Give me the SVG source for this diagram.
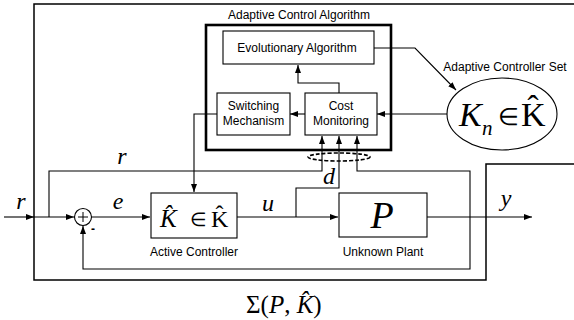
<svg xmlns="http://www.w3.org/2000/svg" width="574" height="320" viewBox="0 0 574 320">
<defs>
<marker id="ah" markerWidth="8" markerHeight="6" refX="8" refY="3" orient="auto" markerUnits="userSpaceOnUse">
<path d="M0,0 L8,3 L0,6 Z" fill="#000"/>
</marker>
<style>
.ln{fill:none;stroke:#000;stroke-width:1.1}
.bx{fill:#fff;stroke:#000;stroke-width:1.1}
.sans{font-family:"Liberation Sans",Arial,sans-serif;font-size:12px;fill:#000}
.m{font-family:"Liberation Serif","Times New Roman",serif;fill:#000}
.i{font-style:italic}
</style>
</defs>
<rect width="574" height="320" fill="#fff"/>

<g id="frame">
<path d="M574,4 H34 V280 H486 V164 H574" fill="none" stroke="#000" stroke-width="1.5"/>
</g>

<g id="connectors">
<path class="ln" d="M4,217 H34" marker-end="url(#ah)"/>
<path class="ln" d="M34,217 H74" marker-end="url(#ah)"/>
<path class="ln" d="M49,217 V171 H322 V136" marker-end="url(#ah)"/>
<path class="ln" d="M92,217 H150" marker-end="url(#ah)"/>
<path class="ln" d="M237,217 H338" marker-end="url(#ah)"/>
<path class="ln" d="M296,217 V188 H339 V136" marker-end="url(#ah)"/>
<path class="ln" d="M427,217 H532" marker-end="url(#ah)"/>
<path class="ln" d="M470,217 V171 H357 V136" marker-end="url(#ah)"/>
<path class="ln" d="M470,217 V269 H83 V226" marker-end="url(#ah)"/>
<path class="ln" d="M217,114 H194 V192" marker-end="url(#ah)"/>
<path class="ln" d="M305,114 H290" marker-end="url(#ah)"/>
<path class="ln" d="M339,93 V83 H298 V65" marker-end="url(#ah)"/>
<path class="ln" d="M374,48 H415 L456,90" marker-end="url(#ah)"/>
<path class="ln" d="M447,114 H377" marker-end="url(#ah)"/>
<ellipse cx="339" cy="157" rx="31" ry="4" fill="none" stroke="#000" stroke-width="1.6" stroke-dasharray="4,2"/>
</g>

<g id="aca">
<rect x="206" y="25" width="185" height="125" fill="none" stroke="#000" stroke-width="2.6"/>
<text class="sans" x="299" y="19" text-anchor="middle">Adaptive Control Algorithm</text>
</g>

<g id="evo">
<rect class="bx" x="223" y="31" width="151" height="33"/>
<text class="sans" x="297" y="52" text-anchor="middle">Evolutionary Algorithm</text>
</g>

<g id="switch">
<rect class="bx" x="217" y="93" width="73" height="42"/>
<text class="sans" x="253.5" y="110" text-anchor="middle">Switching</text>
<text class="sans" x="253.5" y="125" text-anchor="middle">Mechanism</text>
</g>

<g id="cost">
<rect class="bx" x="305" y="93" width="72" height="42"/>
<text class="sans" x="341" y="110" text-anchor="middle">Cost</text>
<text class="sans" x="341" y="125" text-anchor="middle">Monitoring</text>
</g>

<g id="set">
<ellipse cx="502" cy="114" rx="55" ry="36" fill="#fff" stroke="#000" stroke-width="1.1"/>
<text class="sans" x="505" y="71" text-anchor="middle">Adaptive Controller Set</text>
<text class="m i" x="459" y="126" font-size="34">K</text>
<text class="m i" x="482" y="135" font-size="21">n</text>
<text class="m" x="498" y="125" font-size="24">∈</text>
<text class="m" x="521" y="126" font-size="34">K&#x302;</text>
</g>

<g id="sum">
<circle cx="83" cy="217" r="8.5" fill="#fff" stroke="#000" stroke-width="1.1"/>
<path d="M78,217 H88 M83,212 V222" stroke="#000" stroke-width="1"/>
<text class="sans" x="91" y="233" font-size="14" font-weight="bold">-</text>
</g>

<g id="controller">
<rect class="bx" x="151" y="193" width="86" height="45"/>
<text class="m i" x="160" y="227" font-size="25">K&#x302;</text>
<text class="m" x="190" y="226" font-size="19">∈</text>
<text class="m" x="211" y="227" font-size="24">K&#x302;</text>
<text class="sans" x="194" y="256" text-anchor="middle">Active Controller</text>
</g>

<g id="plant">
<rect class="bx" x="339" y="193" width="88" height="44"/>
<text class="m i" x="382" y="228" font-size="38" text-anchor="middle">P</text>
<text class="sans" x="383" y="256" text-anchor="middle">Unknown Plant</text>
</g>

<g id="labels">
<text class="m i" x="21" y="209" font-size="24" text-anchor="middle">r</text>
<text class="m i" x="122" y="164" font-size="24" text-anchor="middle">r</text>
<text class="m i" x="118" y="209" font-size="24" text-anchor="middle">e</text>
<text class="m i" x="268" y="211" font-size="24" text-anchor="middle">u</text>
<text class="m i" x="329" y="184" font-size="24" text-anchor="middle">d</text>
<text class="m i" x="506" y="206" font-size="24" text-anchor="middle">y</text>
<text class="m" x="246" y="313" font-size="25">Σ(<tspan font-style="italic">P</tspan>, <tspan font-style="italic">K&#x302;</tspan>)</text>
</g>
</svg>
